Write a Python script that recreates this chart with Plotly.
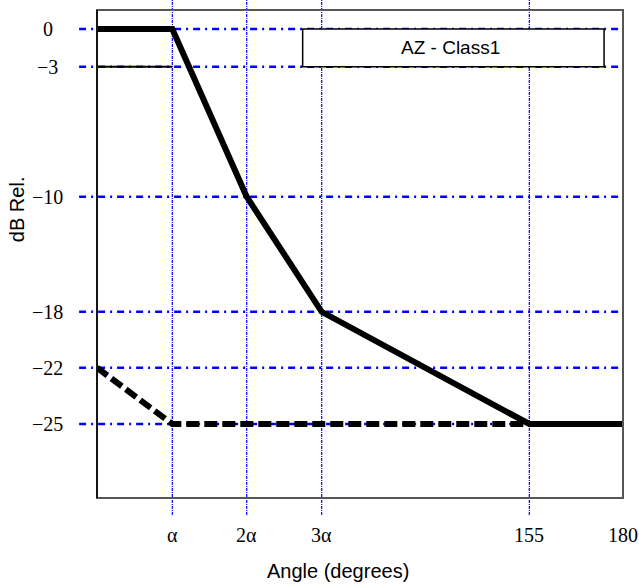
import numpy as np
import plotly.graph_objects as go

# ---------------- data ----------------
ALPHA = 25.7  # angle represented by the symbol α (schematic)

# Main mask (thick solid)
main_angle = [0, ALPHA, 2 * ALPHA, 3 * ALPHA, 155, 180]
main_db = [0, 0, -10, -18, -25, -25]

# -3 dB reference segment (thin)
ref_angle = [0, ALPHA]
ref_db = [-3, -3]

# Lower mask (thick dashed)
low_angle = [0, ALPHA, 180]
low_db = [-22, -25, -25]

# tick labels
x_tick_angle = [ALPHA, 2 * ALPHA, 3 * ALPHA, 155, 180]
x_tick_text = ["α", "2α", "3α", "155", "180"]
y_tick_db = [0, -3, -10, -18, -22, -25]
y_tick_text = ["0", "−3", "−10", "−18", "−22", "−25"]

legend_text = "AZ - Class1"

# ---------------- axis warps (the reference uses non-uniform tick spacing) ----------------
X_WARP_ANGLE = [0, ALPHA, 2 * ALPHA, 3 * ALPHA, 155, 180]
X_WARP_POS = [0, 25.77, 51.23, 76.89, 147.94, 180]
Y_WARP_DB = [-25, -22, -18, -10, -3, 0]
Y_WARP_POS = [-25, -21.437, -17.899, -10.614, -2.386, 0]


def wx(a):
    return list(np.interp(a, X_WARP_ANGLE, X_WARP_POS))


def wy(d):
    return list(np.interp(d, Y_WARP_DB, Y_WARP_POS))


fig = go.Figure()

fig.add_trace(go.Scatter(x=wx(low_angle), y=wy(low_db), mode="lines",
                         line=dict(color="black", width=6, dash="13px,5px"),
                         hoverinfo="skip", showlegend=False))
fig.add_trace(go.Scatter(x=wx(ref_angle), y=wy(ref_db), mode="lines",
                         line=dict(color="black", width=2),
                         hoverinfo="skip", showlegend=False))
fig.add_trace(go.Scatter(x=wx(main_angle), y=wy(main_db), mode="lines",
                         line=dict(color="black", width=6),
                         hoverinfo="skip", showlegend=False))

shapes = []
# horizontal dash-dot gridlines (extend left of the axis)
for yp in wy(y_tick_db):
    shapes.append(dict(type="line", xref="paper", yref="y", x0=-0.034, x1=1.0,
                       y0=yp, y1=yp, layer="below",
                       line=dict(color="#0000ff", width=2.5, dash="7px,5px,2px,5px")))
# vertical dotted gridlines (extend above and below the plot)
for xp in wx(x_tick_angle[:-1]):
    shapes.append(dict(type="line", xref="x", yref="paper", x0=xp, x1=xp,
                       y0=-0.035, y1=1.021, layer="below",
                       line=dict(color="#0000ff", width=1.2, dash="3px,1px,1px,1px")))
# legend box
shapes.append(dict(type="rect", xref="paper", yref="y", x0=0.391, x1=0.964,
                   y0=wy([0])[0], y1=wy([-3])[0], layer="above",
                   fillcolor="white", line=dict(color="black", width=1.5)))
# frame
shapes.append(dict(type="rect", xref="paper", yref="paper", x0=0, x1=1, y0=0, y1=1,
                   layer="above", line=dict(color="#555555", width=2)))
shapes.append(dict(type="line", xref="paper", yref="paper", x0=0, x1=0, y0=0, y1=1,
                   layer="above", line=dict(color="black", width=1.5)))

annotations = []
for a, t in zip(wx(x_tick_angle), x_tick_text):
    annotations.append(dict(x=a, y=-0.0768, xref="x", yref="paper", text=t,
                            showarrow=False, xanchor="center", yanchor="middle",
                            font=dict(family="Liberation Serif", size=20, color="black")))
for d, t in zip(wy(y_tick_db), y_tick_text):
    annotations.append(dict(x=-0.0941, y=d, xref="paper", yref="y", text=t,
                            showarrow=False, xanchor="center", yanchor="middle",
                            font=dict(family="Liberation Serif", size=20, color="black")))
annotations.append(dict(x=0.458, y=-0.1496, xref="paper", yref="paper",
                        text="Angle (degrees)", showarrow=False,
                        xanchor="center", yanchor="middle",
                        font=dict(family="Liberation Sans", size=20, color="black")))
annotations.append(dict(x=-0.152, y=0.592, xref="paper", yref="paper",
                        text="dB Rel.", showarrow=False, textangle=-90,
                        xanchor="center", yanchor="middle",
                        font=dict(family="Liberation Sans", size=20, color="black")))
annotations.append(dict(x=0.673, y=(wy([0])[0] + wy([-3])[0]) / 2, xref="paper", yref="y",
                        text=legend_text, showarrow=False,
                        xanchor="center", yanchor="middle",
                        font=dict(family="Liberation Sans", size=19, color="black")))

fig.update_layout(
    width=639, height=586,
    margin=dict(l=97, r=16, t=10, b=88),
    paper_bgcolor="white", plot_bgcolor="white",
    xaxis=dict(range=[0, 180], showgrid=False, zeroline=False, showticklabels=False,
               ticks="", showline=False, fixedrange=True),
    yaxis=dict(range=[-29.684, 1.2025], showgrid=False, zeroline=False,
               showticklabels=False, ticks="", showline=False, fixedrange=True),
    shapes=shapes, annotations=annotations, showlegend=False,
)

fig.write_html("out.html")
